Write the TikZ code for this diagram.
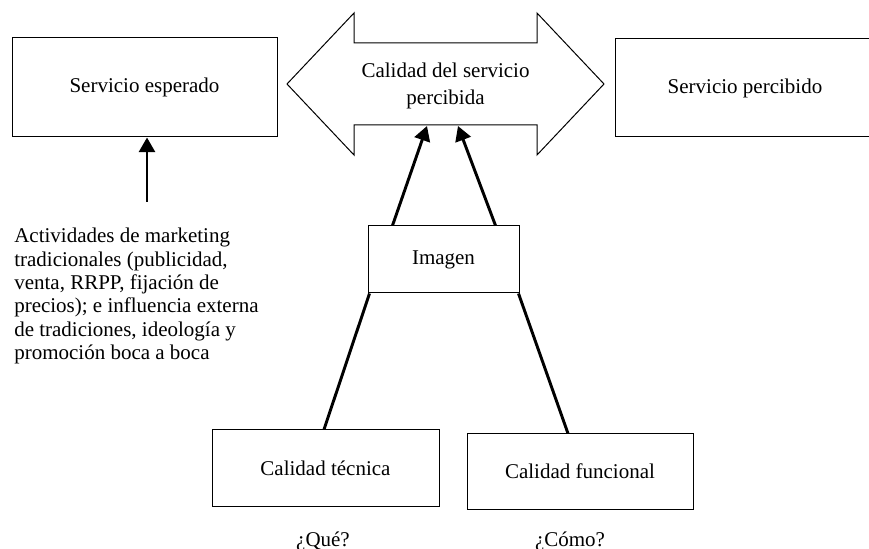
\documentclass[tikz,border=0pt]{standalone}
\usepackage{fontspec}
\setmainfont{Liberation Serif}
\usetikzlibrary{arrows.meta}
\def\upx{0.75pt}
\tikzset{
  every node/.style={font=\fontsize{15.75}{20}\selectfont},
  box/.style={draw=black, line width=0.75pt, inner sep=0pt, align=center},
  flow/.style={line width=2.2pt, -{Triangle[length=11pt,width=12pt]}},
  link/.style={line width=2.2pt},
  outline/.style={draw=black, line width=0.75pt}
}
\begin{document}
\begin{tikzpicture}[x=0.75pt, y=-0.75pt]
  \clip (0,0) rectangle (869,549);
  \fill[white] (0,0) rectangle (869,549);

  % two-headed arrow between expected and perceived service
  \draw[outline] (287,84) -- (354,13) -- (354,43) -- (537,43) -- (537,13)
    -- (604,84) -- (537,155) -- (537,125) -- (354,125) -- (354,155) -- cycle;
  \node[align=center, inner sep=0pt] (cal) at (445.5,86)
    {Calidad del servicio\\percibida};
  \coordinate (calL) at (427,126);
  \coordinate (calR) at (458,126);

  % boxes
  \node[box, minimum width=265*\upx, minimum height=99*\upx] (esp) at (144.5,87.5) {Servicio esperado};
  \node[box, minimum width=260*\upx, minimum height=98*\upx] (perc) at (745,88) {Servicio percibido};
  \node[box, minimum width=151*\upx, minimum height=67*\upx] (img) at (443.5,259.5) {Imagen};
  \node[box, minimum width=227*\upx, minimum height=76*\upx] (tec) at (325.5,468) {Calidad técnica};
  \node[box, minimum width=226*\upx, minimum height=75*\upx] (fun) at (580,471.5) {Calidad funcional};

  % questions under the two quality boxes
  \node (que) at (323,541) {¿Qué?};
  \node (como) at (570,541) {¿Cómo?};

  % external influences on the expected service
  \node[anchor=north west, inner sep=0pt, align=left,
        font=\fontsize{15.75}{17.5}\selectfont] (act) at (14,228)
    {Actividades de marketing\\
     tradicionales (publicidad,\\
     venta, RRPP, fijación de\\
     precios); e influencia externa\\
     de tradiciones, ideología y\\
     promoción boca a boca};
  \coordinate (actTop) at (147,202);

  % connectors
  \draw[flow] (actTop) -- (actTop |- esp.south);
  \draw[flow] ([xshift=25*\upx]img.north west) -- (calL);
  \draw[flow] ([xshift=-24*\upx]img.north east) -- (calR);
  \draw[link] ([xshift=2*\upx]img.south west) -- ([xshift=-1.5*\upx]tec.north);
  \draw[link] ([xshift=-1*\upx]img.south east) -- ([xshift=-12*\upx]fun.north);
\end{tikzpicture}
\end{document}
